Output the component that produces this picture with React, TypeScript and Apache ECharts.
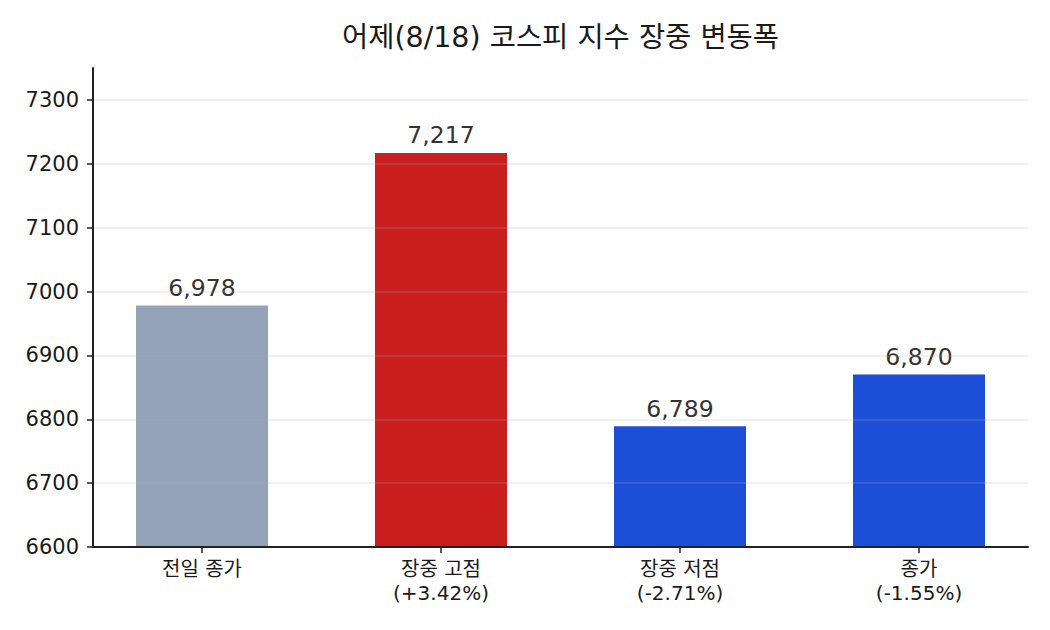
import React, { useEffect, useRef } from "react";
import * as echarts from "echarts";

const titleText = "어제(8/18) 코스피 지수 장중 변동폭";
const categories = ["전일 종가", "장중 고점", "장중 저점", "종가"];
const changes = ["", "+3.42%", "-2.71%", "-1.55%"];
const values = [6978, 7217, 6789, 6870];
const barColors = ["#94a3b8", "#c81e1e", "#1d4ed8", "#1d4ed8"];
const yMin = 6600;
const yMax = 7350;
const yTickMax = 7300;
const yInterval = 100;

const FONT = '"DejaVu Sans", "Noto Sans CJK KR", sans-serif';

export default function App() {
  const ref = useRef<HTMLDivElement>(null);
  useEffect(() => {
    if (!ref.current) return;
    const chart = echarts.init(ref.current, undefined, { renderer: "svg" });
    const top = 68;
    const bottom = 83;
    const plotH = 630 - top - bottom;
    const topTicks = top + (yMax - yTickMax) * (plotH / (yMax - yMin));
    const labels = categories.map((c, i) => (changes[i] ? `${c}\n(${changes[i]})` : c));
    chart.setOption({
      animation: false,
      backgroundColor: "#ffffff",
      textStyle: { fontFamily: FONT },
      graphic: [
        {
          type: "text",
          x: 560.5,
          y: 37,
          style: {
            text: titleText,
            fontSize: 28.5,
            fontFamily: FONT,
            fill: "#1a1a1a",
            textAlign: "center",
            textVerticalAlign: "middle",
          },
        },
      ],
      grid: [
        { left: 93, right: 22, top, bottom },
        { left: 93, right: 22, top: topTicks, bottom },
        { left: 82.5, right: 11.5, top, bottom },
      ],
      xAxis: [
        {
          gridIndex: 0,
          type: "value",
          min: 0,
          max: 1,
          z: 6,
          axisLine: { show: true, lineStyle: { color: "#222", width: 2 } },
          axisTick: { show: false },
          axisLabel: { show: false },
          splitLine: { show: false },
        },
        {
          gridIndex: 1,
          type: "value",
          min: 0,
          max: 1,
          show: false,
        },
        {
          gridIndex: 2,
          type: "category",
          data: labels,
          boundaryGap: true,
          axisLine: { show: false },
          axisTick: {
            show: true,
            alignWithLabel: true,
            length: 6,
            lineStyle: { color: "#222", width: 1.5 },
          },
          axisLabel: {
            color: "#1a1a1a",
            fontSize: 20,
            fontFamily: FONT,
            lineHeight: 24,
            margin: 10,
            interval: 0,
          },
        },
      ],
      yAxis: [
        {
          gridIndex: 0,
          type: "value",
          min: yMin,
          max: yMax,
          z: 6,
          axisLine: { show: true, lineStyle: { color: "#222", width: 2 } },
          axisTick: { show: false },
          axisLabel: { show: false },
          splitLine: { show: false },
        },
        {
          gridIndex: 1,
          type: "value",
          min: yMin,
          max: yTickMax,
          interval: yInterval,
          z: 5,
          axisLine: { show: false },
          axisTick: {
            show: true,
            inside: false,
            length: 6,
            lineStyle: { color: "#222", width: 1.5 },
          },
          axisLabel: {
            color: "#1a1a1a",
            fontSize: 21,
            fontFamily: FONT,
            margin: 14,
            formatter: (v: number) => String(v),
          },
          splitLine: {
            show: true,
            lineStyle: { color: "rgba(175,175,175,0.25)", width: 1.5 },
          },
        },
        {
          gridIndex: 2,
          type: "value",
          min: yMin,
          max: yMax,
          show: false,
          splitLine: { show: false },
        },
      ],
      series: [
        {
          type: "bar",
          xAxisIndex: 2,
          yAxisIndex: 2,
          barWidth: 132,
          z: 2,
          data: values.map((v, i) => ({
            value: v,
            itemStyle: { color: barColors[i] },
          })),
          label: {
            show: true,
            position: "top",
            distance: 6,
            color: "#333",
            fontSize: 23.5,
            fontFamily: FONT,
            formatter: (p: any) => Number(p.value).toLocaleString("en-US"),
          },
        },
      ],
    });
    return () => chart.dispose();
  }, []);
  return (
    <div
      ref={ref}
      style={{ position: "absolute", left: 0, top: 0, width: 1050, height: 630 }}
    />
  );
}
